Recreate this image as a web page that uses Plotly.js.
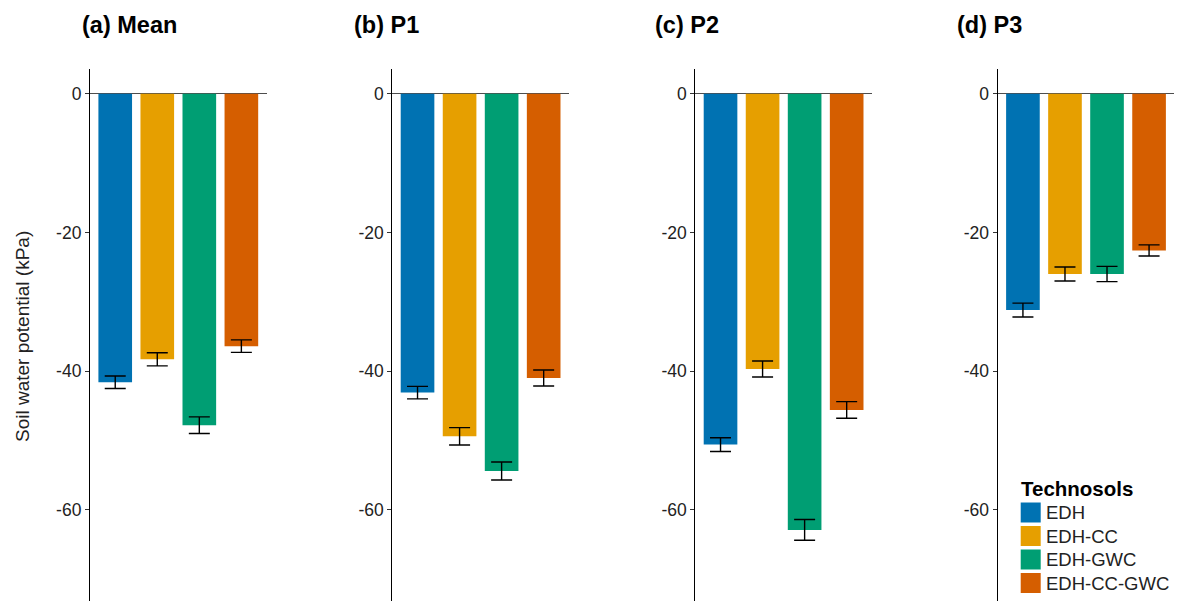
<!DOCTYPE html>
<html>
<head>
<meta charset="utf-8">
<script src="https://cdn.plot.ly/plotly-3.0.1.min.js"></script>
<style>html,body{margin:0;padding:0;background:#fff;}#chart{width:1182px;height:601px;}</style>
</head>
<body>
<div id="chart"></div>
<script>
// ---- data ----
var categories = ["EDH", "EDH-CC", "EDH-GWC", "EDH-CC-GWC"];
var colors = ["#0072B2", "#E69F00", "#009E73", "#D55E00"];
var panelTitles = ["(a) Mean", "(b) P1", "(c) P2", "(d) P3"];
var meanValues = [-41.6, -38.3, -47.8, -36.4];
var meanSE = [0.9, 0.95, 1.2, 0.9];
var p1Values = [-43.1, -49.4, -54.4, -41.0];
var p1SE = [0.9, 1.25, 1.3, 1.15];
var p2Values = [-50.6, -39.7, -62.9, -45.6];
var p2SE = [1.0, 1.15, 1.5, 1.2];
var p3Values = [-31.2, -26.0, -26.0, -22.6];
var p3SE = [1.0, 1.0, 1.1, 0.8];
var tickValues = [0, -20, -40, -60];
var tickLabels = ["0", "-20", "-40", "-60"];
var yTitle = "Soil water potential (kPa)";
var legendTitle = "Technosols";

// ---- layout geometry ----
var W = 1182, H = 601, TOP = 69;
var panelLeft = [90, 392.3, 695.3, 997.7];
var titleLeft = [80, 352, 653, 955];
var panelWidth = 176.6;
var plotH = H - TOP;

var series = [[meanValues, meanSE], [p1Values, p1SE], [p2Values, p2SE], [p3Values, p3SE]];
var traces = [];
var layout = {
  width: W, height: H,
  margin: {l: 0, r: 0, t: TOP, b: 0, pad: 0},
  paper_bgcolor: "#ffffff", plot_bgcolor: "#ffffff",
  showlegend: false,
  font: {family: "Liberation Sans, Arial, sans-serif", color: "#222"},
  annotations: [], shapes: []
};

series.forEach(function (s, i) {
  var n = i + 1;
  var xa = "x" + (n === 1 ? "" : n), ya = "y" + (n === 1 ? "" : n);
  traces.push({
    type: "bar",
    x: categories, y: s[0],
    xaxis: xa, yaxis: ya,
    marker: {color: colors, line: {width: 0}},
    error_y: {type: "data", array: s[1], visible: true, color: "#000", thickness: 1.4, width: 10.5},
    hoverinfo: "x+y"
  });
  var xk = "xaxis" + (n === 1 ? "" : n), yk = "yaxis" + (n === 1 ? "" : n);
  layout[xk] = {
    domain: [panelLeft[i] / W, (panelLeft[i] + panelWidth) / W],
    anchor: ya, type: "category", range: [-0.6, 3.6],
    showticklabels: false, ticks: "", showline: false, showgrid: false, zeroline: false
  };
  layout[yk] = {
    domain: [0, 1], anchor: xa,
    range: [-73.15, 3.56],
    tickmode: "array", tickvals: tickValues, ticktext: tickLabels,
    ticks: "outside", ticklen: 4, tickwidth: 1, tickcolor: "#333",
    tickfont: {size: 17.5, color: "#222"},
    showline: true, linecolor: "#000", linewidth: 1.1,
    showgrid: false,
    zeroline: true, zerolinecolor: "#4d4d4d", zerolinewidth: 1.6
  };
  layout.annotations.push({
    text: "<b>" + panelTitles[i] + "</b>",
    xref: "paper", yref: "paper",
    x: titleLeft[i] / W, xanchor: "left",
    y: (H - 25) / plotH, yanchor: "middle",
    showarrow: false, font: {size: 23.5, color: "#000"}
  });
});

// y-axis title
layout.annotations.push({
  text: yTitle, textangle: -90,
  xref: "paper", yref: "paper",
  x: 22 / W, xanchor: "center",
  y: (H - 337) / plotH, yanchor: "middle",
  showarrow: false, font: {size: 19, color: "#222"}
});

// legend (drawn from categories and colors)
var legX = 1020.7, legTitleY = 488, firstRowY = 512.5, rowStep = 23.5, sw = 20;
layout.annotations.push({
  text: "<b>" + legendTitle + "</b>",
  xref: "paper", yref: "paper",
  x: (legX - 2) / W, xanchor: "left",
  y: (H - legTitleY) / plotH, yanchor: "middle",
  showarrow: false, font: {size: 20.5, color: "#000"}
});
categories.forEach(function (c, k) {
  var cy = firstRowY + k * rowStep;
  layout.shapes.push({
    type: "rect", xref: "paper", yref: "paper",
    x0: legX / W, x1: (legX + sw) / W,
    y0: (H - (cy - sw / 2)) / plotH, y1: (H - (cy + sw / 2)) / plotH,
    fillcolor: colors[k], line: {width: 0}
  });
  layout.annotations.push({
    text: c, xref: "paper", yref: "paper",
    x: (legX + sw + 3) / W, xanchor: "left",
    y: (H - cy) / plotH, yanchor: "middle",
    showarrow: false, font: {size: 18.5, color: "#222"}
  });
});

Plotly.newPlot("chart", traces, layout, {displayModeBar: false, staticPlot: true});
</script>
</body>
</html>
